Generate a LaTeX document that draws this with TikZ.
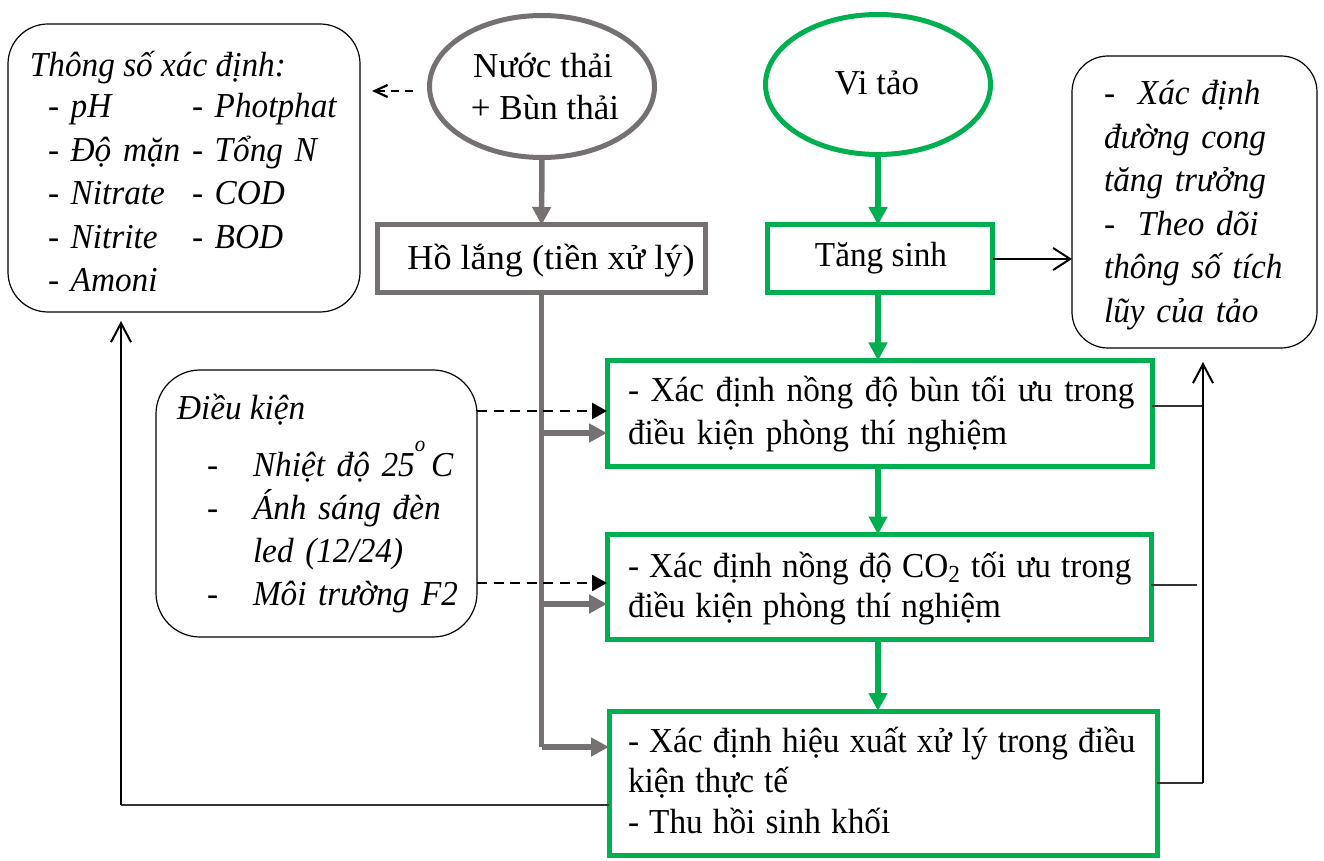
\documentclass[tikz,border=0pt]{standalone}
\usepackage{fontspec}
\setmainfont{Liberation Serif}
\newfontfamily\cfont[FakeStretch=0.95]{Liberation Serif}
\newfontfamily\wfont[FakeStretch=1.035]{Liberation Serif}
\newcommand{\tightsp}{\spaceskip=0.29em plus 0.05em\relax}
\usetikzlibrary{arrows.meta,shapes.geometric}
\definecolor{gbrown}{RGB}{118,113,113}
\definecolor{vgreen}{RGB}{0,176,80}
\begin{document}
\begin{tikzpicture}[x=0.5pt,y=-0.5pt,
  every node/.style={inner sep=0pt,outer sep=0pt},
  txt/.style={font=\cfont\fontsize{17.5pt}{21.75pt}\selectfont,anchor=base west,align=left},
  itxt/.style={font=\cfont\fontsize{17.5pt}{21.75pt}\selectfont\itshape,anchor=base west,align=left},
  ctxt/.style={font=\fontsize{17.5pt}{21.75pt}\selectfont,anchor=base},
  rbox/.style={draw=black,line width=0.6pt,rectangle},
  gshape/.style={draw=gbrown,line width=2.5pt},
  vshape/.style={draw=vgreen,line width=2.5pt},
  gconn/.style={draw=gbrown,line width=2.75pt,-{Triangle[length=9pt,width=9pt]}},
  gline/.style={draw=gbrown,line width=2.75pt},
  vconn/.style={draw=vgreen,line width=3pt,-{Triangle[length=9pt,width=9pt]}},
  dconn/.style={draw=black,line width=1.3pt,dash pattern=on 5pt off 3.3pt,-{Triangle[length=7.5pt,width=8pt]}},
  dconnb/.style={draw=black,line width=1.1pt,dash pattern=on 4pt off 3pt,-{Straight Barb[length=6.5pt,width=6pt]}},
  kconn/.style={draw=black,line width=1pt,-{Straight Barb[length=8.5pt,width=11pt]}},
  kline/.style={draw=black!80,line width=0.6pt},
  fconn/.style={draw=black,line width=1pt,-{Straight Barb[length=9.5pt,width=10pt]}},
]
\useasboundingbox (0,0) rectangle (1324,861);

% shapes
\node[rbox,rounded corners=20pt,minimum width=176pt,minimum height=144pt] (params) at (184,168) {};
\node[rbox,rounded corners=22pt,minimum width=160.5pt,minimum height=133.5pt] (cond) at (316.5,503.5) {};
\node[rbox,rounded corners=18pt,minimum width=122.5pt,minimum height=146pt] (res) at (1194.5,202) {};
\node[gshape,ellipse,minimum width=112.5pt,minimum height=71pt] (ww) at (542,86.5) {};
\node[vshape,ellipse,minimum width=112.5pt,minimum height=70pt] (algae) at (878,84.5) {};
\node[gshape,rectangle,minimum width=164pt,minimum height=34pt] (settle) at (541.5,259) {};
\node[vshape,rectangle,minimum width=112.5pt,minimum height=34pt] (grow) at (880,259) {};
\node[vshape,rectangle,minimum width=272.5pt,minimum height=53pt] (box1) at (879.5,413.5) {};
\node[vshape,rectangle,minimum width=272pt,minimum height=52.5pt] (box2) at (879,587) {};
\node[vshape,rectangle,minimum width=274pt,minimum height=72pt] (box3) at (883,783) {};

% texts
\node[itxt] (paramsT) at (30,77) {Thông số xác định:};
\node[itxt,text width=70pt] (paramsA) at (48,118) {- pH\\- Độ mặn\\- Nitrate\\- Nitrite\\- Amoni};
\node[itxt,text width=80pt] (paramsB) at (192,118) {- Photphat\\- Tổng N\\- COD\\- BOD};
\node[ctxt] (wwT1) at (543,78) {Nước thải};
\node[ctxt] (wwT2) at (545,120) {+ Bùn thải};
\node[ctxt] (algaeT) at (877,95) {Vi tảo};
\node[ctxt,font=\wfont\fontsize{17.5pt}{21.75pt}\selectfont] (settleT) at (551,270) {Hồ lắng (tiền xử lý)};
\node[ctxt,font=\cfont\fontsize{17.5pt}{21.75pt}\selectfont] (growT) at (881,267) {Tăng sinh};
\node[itxt,text width=100pt] (resT) at (1104,105) {\makebox[17pt][l]{-}Xác định\\đường cong\\tăng trưởng\\\makebox[17pt][l]{-}Theo dõi\\thông số tích\\lũy của tảo};
\node[itxt] (condT) at (177,420) {Điều kiện};
\node[itxt,text width=20pt,font=\cfont\fontsize{17.5pt}{21.4pt}\selectfont\itshape] (condD) at (207,477) {-\\-\\\strut\\-};
\node[itxt,text width=110pt,font=\cfont\fontsize{17.5pt}{21.4pt}\selectfont\itshape] (condI) at (253,477) {Nhiệt độ 25\raisebox{0.72em}{\fontsize{11pt}{11pt}\selectfont o}\,C\\Ánh sáng đèn\\led (12/24)\\Môi trường F2};
\node[txt,text width=270pt,font=\cfont\fontsize{17.5pt}{21pt}\selectfont] (box1T) at (628,402) {- Xác định nồng độ bùn tối ưu trong\\điều kiện phòng thí nghiệm};
\node[txt,text width=270pt,font=\cfont\fontsize{17.5pt}{20.25pt}\selectfont] (box2T) at (628,577) {\tightsp - Xác định nồng độ CO\textsubscript{2} tối ưu trong\\điều kiện phòng thí nghiệm};
\node[txt,text width=272pt,font=\cfont\fontsize{17.5pt}{20.25pt}\selectfont] (box3T) at (628,752) {\tightsp - Xác định hiệu xuất xử lý trong điều\\kiện thực tế\\- Thu hồi sinh khối};

% gray flow
\draw[gconn] (ww.south) -- (settle.north);
\coordinate (a1) at ([yshift=-9.75pt]box1.west);
\coordinate (a2) at ([yshift=-8.5pt]box2.west);
\coordinate (a3) at ([yshift=18pt]box3.west);
\draw[gline] (settle.south) -- (settle.south |- a3);
\draw[gconn] (settle.south |- a1) -- (a1);
\draw[gconn] (settle.south |- a2) -- (a2);
\draw[gconn] (settle.south |- a3) -- (a3);

% dashed
\coordinate (p1) at ([xshift=-8.25pt,yshift=-2.25pt]ww.west);
\coordinate (p2) at ([xshift=6pt,yshift=38.5pt]params.east);
\draw[dconnb] (p1) -- (p2);
\draw[dconn] ([yshift=46.25pt]cond.east) -- ([yshift=1.25pt]box1.west);
\draw[dconn] ([yshift=-39.75pt]cond.east) -- ([yshift=2pt]box2.west);

% green flow
\coordinate (gx) at (878,0);
\draw[vconn] (algae.south) -- (gx |- grow.north);
\draw[vconn] (gx |- grow.south) -- (gx |- box1.north);
\draw[vconn] (gx |- box1.south) -- (gx |- box2.north);
\draw[vconn] (gx |- box2.south) -- (gx |- box3.north);
\draw[kconn] (grow.east) -- (res.west |- grow.east);

% right feedback
\coordinate (rtip) at ([xshift=4.25pt,yshift=-7pt]res.south);
\coordinate (e1) at ([yshift=3.75pt]box1.east);
\coordinate (e2) at ([yshift=1pt]box2.east);
\path (rtip |- e2) coordinate (e2x);
\coordinate (e2end) at ([xshift=-3pt]e2x);
\draw[kline] (e1) -- (e1 -| rtip);
\draw[kline] (e2) -- (e2end);
\draw[kline] (box3.east) -- (box3.east -| rtip);
\draw[fconn] (box3.east -| rtip) -- (rtip);

% left feedback
\coordinate (w3) at ([yshift=-11pt]box3.west);
\coordinate (ltip) at ([xshift=-31.5pt,yshift=-4.5pt]params.south);
\draw[kline] (w3) -- (w3 -| ltip);
\draw[fconn] (w3 -| ltip) -- (ltip);
\end{tikzpicture}
\end{document}
